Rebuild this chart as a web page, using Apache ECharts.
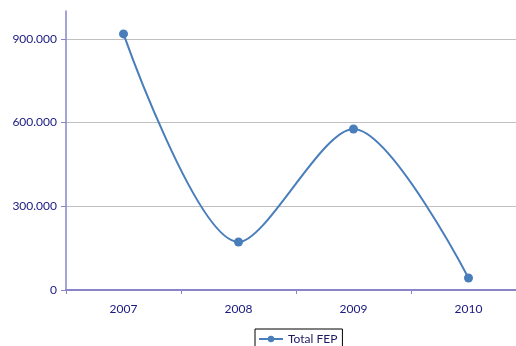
<!DOCTYPE html>
<html><head><meta charset="utf-8">
<script src="https://cdn.jsdelivr.net/npm/echarts@6/dist/echarts.min.js"></script>
<style>html,body{margin:0;padding:0;background:#fff}#c{width:516px;height:346px}</style>
</head><body><div id="c"></div>
<script>
var categories = ['2007', '2008', '2009', '2010'];
var totalFEP = [918, 172, 577, 43];
var yTicks = [0, 300, 600, 900];
var seriesName = 'Total FEP';

var chart = echarts.init(document.getElementById('c'), null, {renderer: 'canvas'});
var font = 'Lato, "Open Sans", sans-serif';
chart.setOption({
  animation: false,
  textStyle: {fontFamily: font},
  grid: {left: 66, top: 11, width: 460, bottom: 56, containLabel: false, outerBoundsMode: 'none'},
  xAxis: {
    type: 'category', data: categories, boundaryGap: true,
    axisLine: {lineStyle: {color: '#8886c8', width: 2}},
    axisTick: {show: true, length: 4, inside: false, lineStyle: {color: '#8886c8'}},
    axisLabel: {color: '#1a1a80', fontSize: 12, margin: 13, fontFamily: font},
    splitLine: {show: false}
  },
  yAxis: {
    type: 'value', min: 0, max: 1000, interval: 300,
    axisLine: {show: true, lineStyle: {color: '#8886c8', width: 1.5}},
    axisTick: {show: true, length: 5, lineStyle: {color: '#8886c8'}},
    axisLabel: {color: '#1a1a80', fontSize: 12, margin: 9, fontFamily: font, showMaxLabel: false,
      formatter: function (v) { return yTicks.indexOf(v) < 0 ? '' : (v === 0 ? '0' : (v).toFixed(3)); }},
    splitLine: {show: true, showMaxLine: false, lineStyle: {color: '#c0c0c0', width: 1}}
  },
  legend: {
    data: [seriesName], left: 255, top: 329,
    borderColor: '#000', borderWidth: 1, padding: [4, 5, 8, 3],
    itemWidth: 24, itemHeight: 8, itemGap: 2,
    textStyle: {color: '#1a1a60', fontSize: 12, fontFamily: font}
  },
  series: [{
    name: seriesName, type: 'line', data: totalFEP, smooth: 0.3,
    symbol: 'circle', symbolSize: 9,
    lineStyle: {color: '#4a7ebb', width: 2},
    itemStyle: {color: '#4a7ebb'}
  }]
});
</script></body></html>
